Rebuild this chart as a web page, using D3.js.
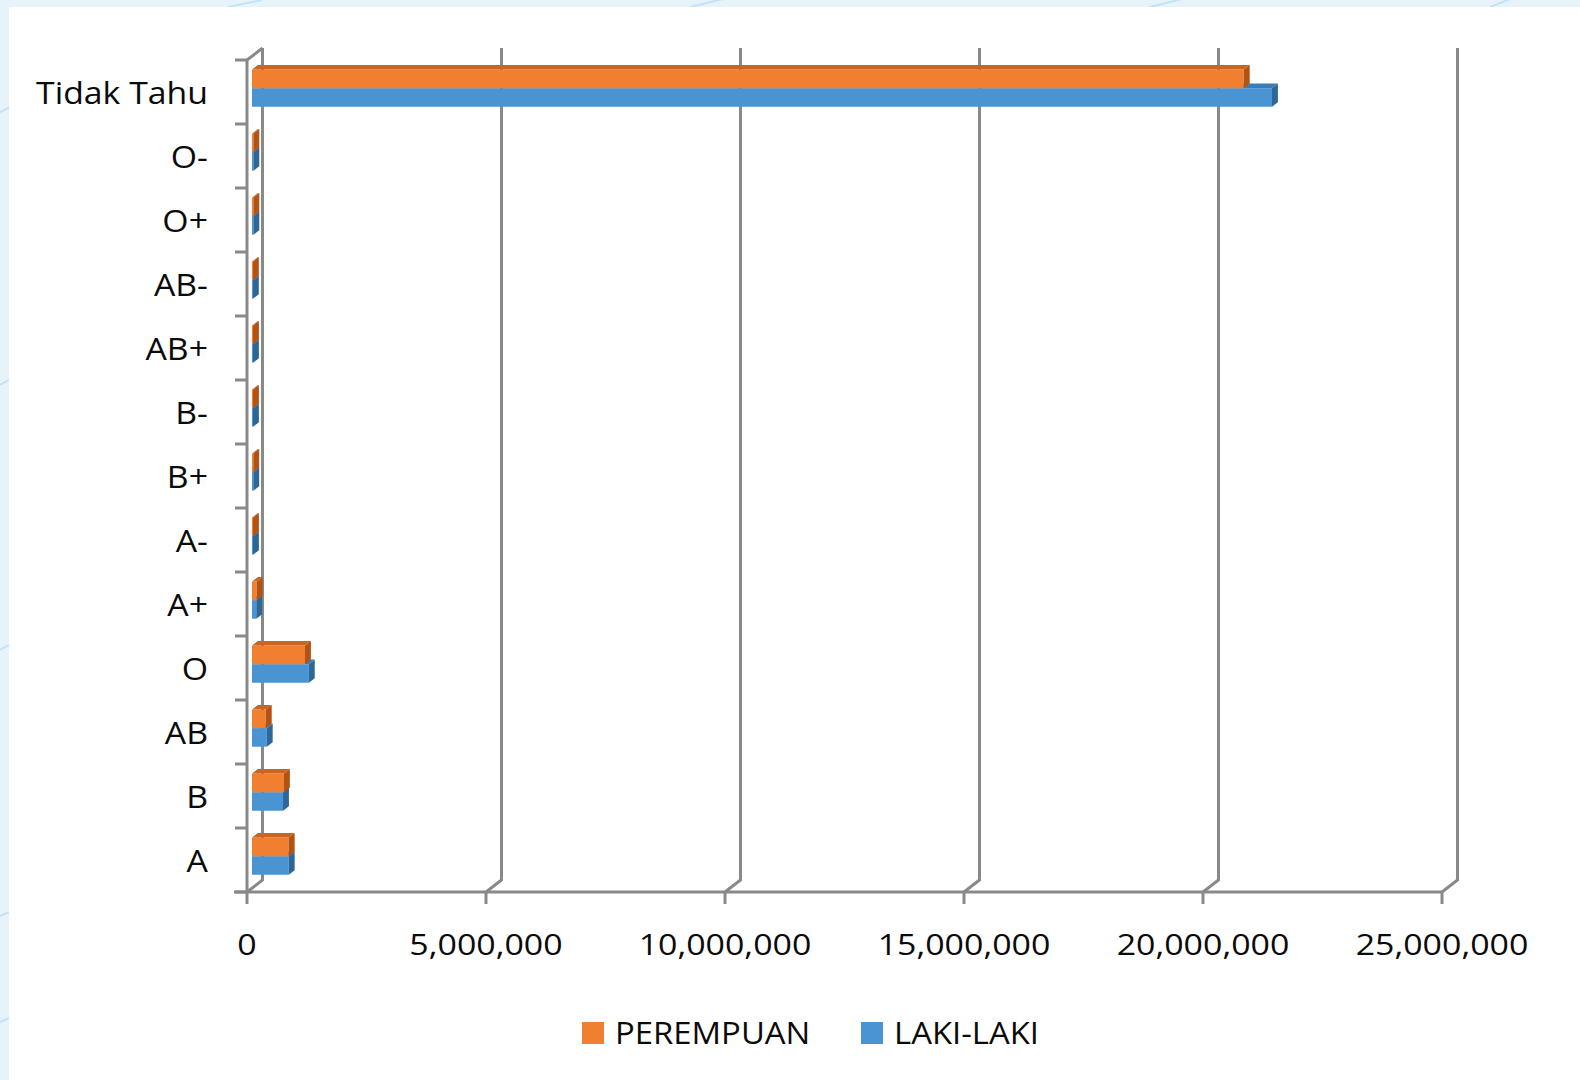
<!DOCTYPE html>
<html>
<head>
<meta charset="utf-8">
<script src="https://cdn.jsdelivr.net/npm/d3@7"></script>
<style>
  body { margin: 0; background: #e6f3fb; }
  svg { display: block; }
  text { font-family: "Open Sans", "Noto Sans", sans-serif; fill: #0a0a0a; }
</style>
</head>
<body>
<svg id="chart" width="1580" height="1080"></svg>
<script>
// data, in sheet order (Excel draws the first row at the bottom)
var categories = ["A", "B", "AB", "O", "A+", "A-", "B+", "B-", "AB+", "AB-", "O+", "O-", "Tidak Tahu"];
var perempuan = [770000, 670000, 290000, 1110000, 100000, 22000, 28000, 22000, 22000, 20000, 30000, 30000, 20750000];
var lakilaki  = [770000, 650000, 310000, 1190000, 90000, 22000, 28000, 22000, 22000, 20000, 30000, 30000, 21340000];
var seriesNames = ["PEREMPUAN", "LAKI-LAKI"];
var xTicks = [0, 5000000, 10000000, 15000000, 20000000, 25000000];

var series = [
  { name: seriesNames[1], values: lakilaki,  front: "#4a94d4", top: "#3b7cb8", side: "#2d6697" },
  { name: seriesNames[0], values: perempuan, front: "#f0802f", top: "#c9651f", side: "#b25214" }
];

var svg = d3.select("#chart");

// page background: light blue margin, white panel
svg.append("rect").attr("width", 1580).attr("height", 1080).attr("fill", "#e6f3fb");
var deco = [[0, 112, 40, 92], [228, 7, 262, 0], [690, 7, 760, -10], [1150, 7, 1210, -8], [0, 385, 9, 380],
            [0, 650, 9, 645], [0, 916, 9, 912], [0, 1022, 9, 1018], [1490, 7, 1520, -5]];
svg.selectAll("line.deco").data(deco).enter().append("line")
  .attr("x1", d => d[0]).attr("y1", d => d[1]).attr("x2", d => d[2]).attr("y2", d => d[3])
  .attr("stroke", "#c3e2f5").attr("stroke-width", 2);
svg.append("rect").attr("x", 9).attr("y", 7).attr("width", 1571).attr("height", 1073).attr("fill", "#fff");

// 3d box: front plane, back plane shifted by (DX, DY)
var DX = 15.5, DY = -12;
var plotTop = 60, plotBottom = 892;
var x = d3.scaleLinear().domain([0, 25000000]).range([247, 1442]);
var y = d3.scaleBand().domain(categories.slice().reverse()).range([plotTop, plotBottom]);

function P(v, yy, z) { return [x(v) + z * DX, yy + z * DY]; }
var line = d3.line();

var grid = svg.append("g").attr("fill", "none").attr("stroke", "#898989").attr("stroke-width", 3);

// back gridlines, bending down to the front floor edge
xTicks.forEach(function(v) {
  grid.append("path").attr("d", line([P(v, plotTop, 1), P(v, plotBottom, 1), P(v, plotBottom, 0)]));
});

// left wall front edge + top
grid.append("path").attr("d", line([P(0, plotTop, 1), P(0, plotTop, 0), P(0, plotBottom, 0)]));

// category ticks
var edges = y.domain().map(d => y(d)).concat([plotBottom]);
edges.forEach(function(e) {
  grid.append("line").attr("x1", x(0) - 12).attr("x2", x(0)).attr("y1", e).attr("y2", e);
});

// value axis
grid.append("line").attr("x1", x(0) - 13).attr("x2", x(25000000)).attr("y1", plotBottom).attr("y2", plotBottom);
xTicks.forEach(function(v) {
  grid.append("line").attr("x1", x(v)).attr("x2", x(v)).attr("y1", plotBottom).attr("y2", plotBottom + 12);
});

// bars
var z0 = 0.32, z1 = 0.70;
var barH = y.bandwidth() * 0.29;
var bars = svg.append("g");

series.forEach(function(s, si) {
  // si 0 = blue (lower), si 1 = orange (upper)
  categories.forEach(function(c, i) {
    var v = s.values[i];
    var mid = y(c) + y.bandwidth() / 2;
    var yT = si === 1 ? mid - barH : mid;
    var yB = yT + barH;
    var g = bars.append("g");
    g.append("path").attr("fill", s.front)
      .attr("d", line([P(0, yT, z0), P(v, yT, z0), P(v, yB, z0), P(0, yB, z0)]) + "Z");
    g.append("path").attr("fill", s.top)
      .attr("d", line([P(0, yT, z0), P(v, yT, z0), P(v, yT, z1), P(0, yT, z1)]) + "Z");
    g.append("path").attr("fill", s.side)
      .attr("d", line([P(v, yT, z0), P(v, yT, z1), P(v, yB, z1), P(v, yB, z0)]) + "Z");
  });
});

// stretch text horizontally to the wide face used in the picture
function widen(sel, k) {
  sel.each(function() {
    var w = this.getComputedTextLength();
    d3.select(this).attr("textLength", w * k).attr("lengthAdjust", "spacingAndGlyphs");
  });
}

// category labels
var catLabels = svg.append("g").selectAll("text").data(categories).enter().append("text")
  .attr("x", 208)
  .attr("y", d => y(d) + y.bandwidth() / 2 + 12)
  .attr("text-anchor", "end")
  .style("font-size", "31px")
  .text(d => d);
widen(catLabels, 1.09);

// value tick labels
var fmt = d3.format(",");
var tickLabels = svg.append("g").selectAll("text").data(xTicks).enter().append("text")
  .attr("x", d => x(d))
  .attr("y", 955)
  .attr("text-anchor", "middle")
  .style("font-size", "30px")
  .text(d => fmt(d));
widen(tickLabels, 1.13);

// legend
var legend = [
  { name: seriesNames[0], color: "#f0802f", x: 582 },
  { name: seriesNames[1], color: "#4a94d4", x: 861 }
];
var lg = svg.append("g").selectAll("g").data(legend).enter().append("g");
lg.append("rect").attr("x", d => d.x).attr("y", 1022).attr("width", 22).attr("height", 22).attr("fill", d => d.color);
var lgText = lg.append("text").attr("x", d => d.x + 33).attr("y", 1044)
  .style("font-size", "31px").text(d => d.name);
widen(lgText, 1.06);
</script>
</body>
</html>
